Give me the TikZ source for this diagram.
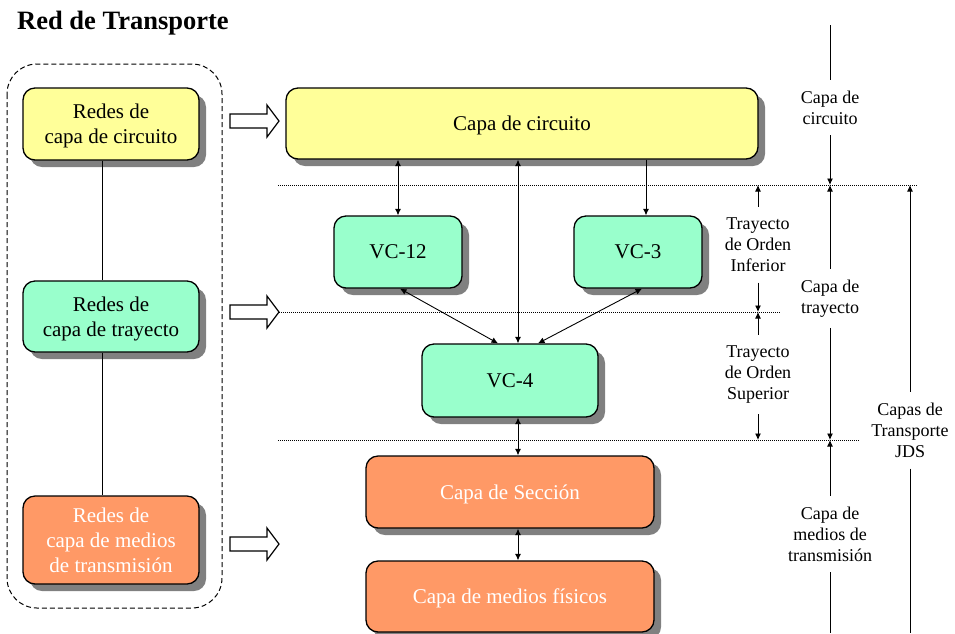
\documentclass[tikz,border=0pt]{standalone}
\usepackage{fontspec}
\setmainfont{Liberation Serif}
\usetikzlibrary{arrows.meta,shadows,calc}

\definecolor{circuitfill}{RGB}{255,255,153}
\definecolor{pathfill}{RGB}{153,255,204}
\definecolor{mediafill}{RGB}{255,153,102}
\definecolor{shadowgray}{RGB}{128,128,128}

\tikzset{
  layerbox/.style={draw=black, line width=1.3pt, rounded corners=12pt,
    inner sep=0pt, align=center, text depth=0pt, font=\fontsize{21}{25}\selectfont,
    drop shadow={opacity=1, fill=shadowgray, shadow xshift=7pt, shadow yshift=-7pt}},
  circuitbox/.style={layerbox, fill=circuitfill},
  pathbox/.style={layerbox, fill=pathfill},
  mediabox/.style={layerbox, fill=mediafill, text=white},
  sidelabel/.style={align=center, inner xsep=2pt, inner ysep=10.5pt,
    font=\fontsize{18}{21}\selectfont},
  link/.style={line width=0.9pt},
  levelline/.style={line width=0.8pt, dash pattern=on 1pt off 1pt},
  blockarrow/.pic={
    \draw[line width=1.2pt, fill=white]
      (0,-7) -- (37,-7) -- (37,-16) -- (49,0) -- (37,16) -- (37,7) -- (0,7) -- cycle;
  }
}

\begin{document}
\begin{tikzpicture}[x=1pt, y=-1pt, >={Latex[length=6.5pt,width=6pt]}]
  \useasboundingbox (0,0) rectangle (955,633);

  % title
  \node[anchor=base west, inner sep=0pt, font=\fontsize{26.5}{31}\selectfont\bfseries]
    (title) at (17,29) {Red de Transporte};

  % left group of networks
  \draw[line width=1pt, dash pattern=on 5pt off 3pt, rounded corners=30pt]
    (7,64) rectangle (222,608);

  \node[circuitbox, minimum width=176pt, minimum height=72pt] (lc) at (111,124)
    {Redes de\\capa de circuito};
  \node[pathbox, minimum width=176pt, minimum height=71pt] (lt) at (111,316.5)
    {Redes de\\capa de trayecto};
  \node[mediabox, minimum width=176pt, minimum height=88pt] (lm) at (111,540)
    {Redes de\\capa de medios\\de transmisión};

  \coordinate (xl) at (102,0);
  \draw[link] (xl |- lc.south) -- (xl |- lt.north);
  \draw[link] (xl |- lt.south) -- (xl |- lm.north);

  % hollow arrows towards the layers
  \pic at (230,121) {blockarrow};
  \pic at (230,312) {blockarrow};
  \pic at (230,544) {blockarrow};

  % layer boundaries
  \coordinate (la1) at (278,185);
  \coordinate (la2) at (279,312);
  \coordinate (la3) at (278,440);
  \draw[levelline] (la1) -- (917,185);
  \draw[levelline] (la2) -- (780,312);
  \draw[levelline] (la3) -- (860,440);

  % layer boxes
  \node[circuitbox, minimum width=472pt, minimum height=71pt] (cc) at (522,123.5)
    {Capa de circuito};
  \node[pathbox, minimum width=128pt, minimum height=72pt] (vc12) at (398,252) {VC-12};
  \node[pathbox, minimum width=128pt, minimum height=72pt] (vc3) at (638,252) {VC-3};
  \node[pathbox, minimum width=176pt, minimum height=73pt] (vc4) at (510,380.5) {VC-4};
  \node[mediabox, minimum width=288pt, minimum height=72pt] (sec) at (510,492)
    {Capa de Sección};
  \node[mediabox, minimum width=288pt, minimum height=71pt] (med) at (510,596.5)
    {Capa de medios físicos};

  % connections between layers
  \coordinate (x12) at (398,0);
  \coordinate (xm) at (518,0);
  \coordinate (x3) at (646,0);
  \draw[link, <->] (x12 |- cc.south) -- (x12 |- vc12.north);
  \draw[link, <->] (xm |- cc.south) -- (xm |- vc4.north);
  \draw[link, ->] (x3 |- cc.south) -- (x3 |- vc3.north);
  \draw[link, <->] ($(vc12.south)+(2,0)$) -- ($(vc4.north)+(-12,0)$);
  \draw[link, <->] ($(vc3.south)+(4,0)$) -- ($(vc4.north)+(28,0)$);
  \draw[link, <->] (xm |- vc4.south) -- (xm |- sec.north);
  \draw[link, <->] (xm |- sec.south) -- (xm |- med.north);

  % side scales
  \node[sidelabel] (rcirc) at (830,107.5) {Capa de\\circuito};
  \node[sidelabel] (rtray) at (830,298.5) {Capa de\\trayecto};
  \node[sidelabel] (rmed)  at (830,534) {Capa de\\medios de\\transmisión};
  \node[sidelabel] (rinf)  at (758,245) {Trayecto\\de Orden\\Inferior};
  \node[sidelabel] (rsup)  at (758,374.5) {Trayecto\\de Orden\\Superior};
  \node[sidelabel] (rjds)  at (910,430.5) {Capas de\\Transporte\\JDS};

  \coordinate (c0) at (830,25);
  \coordinate (cA) at (830,185);
  \coordinate (cC) at (830,440);
  \coordinate (cE) at (830,633);
  \coordinate (oA) at (758,185);
  \coordinate (oB) at (758,312);
  \coordinate (oC) at (758,440);
  \coordinate (jA) at (910,185);
  \coordinate (jE) at (910,633);

  \draw[link] (c0) -- (rcirc);
  \draw[link, ->] (rcirc) -- (cA);
  \draw[link, <-] (cA) -- (rtray);
  \draw[link, ->] (rtray) -- (cC);
  \draw[link, <-] (cC) -- (rmed);
  \draw[link] (rmed) -- (cE);

  \draw[link, <-] (oA) -- (rinf);
  \draw[link, ->] (rinf) -- (oB);
  \draw[link, <-] (oB) -- (rsup);
  \draw[link, ->] (rsup) -- (oC);

  \draw[link, <-] (jA) -- (rjds);
  \draw[link] (rjds) -- (jE);
\end{tikzpicture}
\end{document}
